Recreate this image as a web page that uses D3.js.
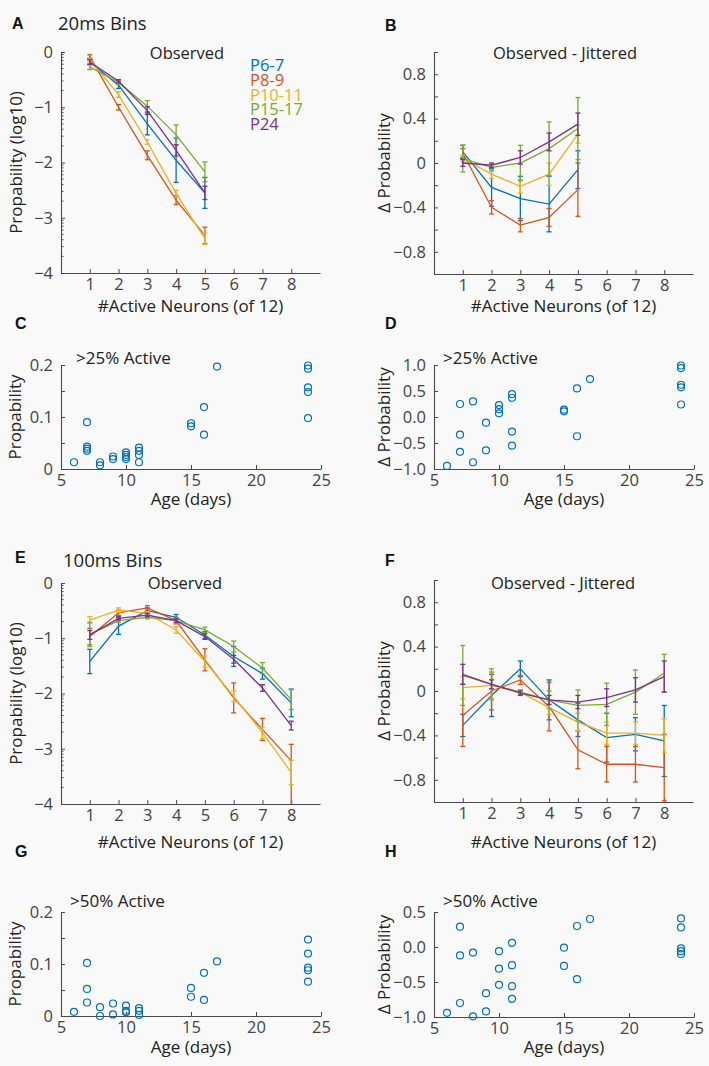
<!DOCTYPE html>
<html>
<head>
<meta charset="utf-8">
<script src="https://cdn.jsdelivr.net/npm/d3@7"></script>
<style>
  body { margin: 0; background: #f9f9f9; }
  svg { display: block; font-family: "Open Sans", sans-serif; }
</style>
</head>
<body>
<svg id="fig" width="709" height="1066"></svg>
<script>
// age groups shown in the line panels
var ageGroups = ["P6-7", "P8-9", "P10-11", "P15-17", "P24"];
var groupColors = ["#0072BD", "#D95319", "#EDB120", "#77AC30", "#7E2F8E"];

// 20 ms bins
var neurons20 = [1, 2, 3, 4, 5];
var obs20 = [
  [-0.18, -0.6, -1.3, -1.96, -2.55],
  [-0.08, -1.0, -1.87, -2.68, -3.32],
  [-0.14, -0.77, -1.63, -2.56, -3.38],
  [-0.27, -0.55, -0.98, -1.5, -2.17],
  [-0.18, -0.53, -1.06, -1.78, -2.55]
];
var obs20Err = [
  [0.05, 0.06, 0.2, 0.4, 0.28],
  [0.03, 0.05, 0.08, 0.08, 0.15],
  [0.03, 0.05, 0.04, 0.06, 0.1],
  [0.05, 0.04, 0.1, 0.18, 0.18],
  [0.04, 0.03, 0.07, 0.1, 0.12]
];
var jit20 = [
  [0.1, -0.22, -0.32, -0.37, -0.06],
  [0.09, -0.4, -0.56, -0.49, -0.24],
  [0.04, -0.1, -0.21, -0.1, 0.26],
  [0.04, -0.04, 0, 0.13, 0.31],
  [0, -0.02, 0.05, 0.19, 0.35]
];
var jit20Err = [
  [0.06, 0.17, 0.2, 0.25, 0.17],
  [0.04, 0.06, 0.06, 0.08, 0.24],
  [0.03, 0.04, 0.06, 0.1, 0.08],
  [0.12, 0.03, 0.16, 0.24, 0.28],
  [0.03, 0.02, 0.06, 0.08, 0.1]
];

// 100 ms bins
var neurons100 = [1, 2, 3, 4, 5, 6, 7, 8];
var obs100 = [
  [-1.42, -0.78, -0.5, -0.62, -0.94, -1.33, -1.64, -2.17],
  [-0.97, -0.54, -0.45, -0.68, -1.39, -2.08, -2.65, -3.22],
  [-0.67, -0.49, -0.55, -0.85, -1.42, -2.05, -2.71, -3.43],
  [-0.93, -0.68, -0.62, -0.68, -0.85, -1.15, -1.54, -2.11],
  [-0.94, -0.64, -0.58, -0.68, -0.97, -1.38, -1.9, -2.58]
];
var obs100Err = [
  [0.22, 0.15, 0.05, 0.05, 0.06, 0.18, 0.1, 0.25],
  [0.15, 0.05, 0.04, 0.06, 0.2, 0.27, 0.2, [0.8, 0.3]],
  [0.06, 0.04, 0.03, 0.06, 0.1, 0.1, 0.1, 0.22],
  [0.22, 0.03, 0.03, 0.04, 0.05, 0.1, 0.1, 0.18],
  [0.08, 0.03, 0.03, 0.03, 0.05, 0.07, 0.06, 0.08]
];
var jit100 = [
  [-0.31, -0.04, 0.2, -0.08, -0.26, -0.42, -0.39, -0.45],
  [-0.22, 0.0, 0.1, -0.14, -0.53, -0.66, -0.66, -0.69],
  [0.03, 0.05, -0.01, -0.15, -0.28, -0.38, -0.38, -0.4],
  [0.14, 0.06, -0.01, -0.08, -0.13, -0.12, -0.01, 0.16],
  [0.15, 0.06, -0.02, -0.08, -0.1, -0.06, 0.01, 0.13]
];
var jit100Err = [
  [0.1, 0.19, 0.07, 0.18, 0.15, 0.22, 0.15, 0.32],
  [0.28, 0.17, 0.04, 0.22, 0.17, 0.16, 0.16, 0.3],
  [0.1, 0.12, 0.02, 0.06, 0.08, 0.1, 0.1, 0.15],
  [0.27, 0.14, 0.02, 0.08, 0.14, 0.19, 0.2, 0.17],
  [0.09, 0.04, 0.02, 0.04, 0.06, 0.08, 0.11, 0.14]
];

// per-animal scatter panels
var daysC = [6, 7, 7, 7, 7, 8, 8, 9, 9, 10, 10, 10, 10, 11, 11, 11, 11, 15, 15, 16, 16, 17, 24, 24, 24, 24, 24];
var probC = [0.013, 0.09, 0.043, 0.039, 0.035, 0.013, 0.007, 0.024, 0.019, 0.032, 0.027, 0.023, 0.019,
  0.041, 0.035, 0.027, 0.013, 0.088, 0.082, 0.119, 0.066, 0.197, 0.199, 0.193, 0.157, 0.148, 0.098];
var daysD = [6, 7, 7, 7, 8, 8, 9, 9, 10, 10, 10, 11, 11, 11, 11, 15, 15, 16, 16, 17, 24, 24, 24, 24, 24];
var dprobD = [-0.94, 0.25, -0.34, -0.67, 0.3, -0.87, -0.11, -0.64, 0.23, 0.15, 0.07, 0.44, 0.37, -0.28, -0.55,
  0.14, 0.11, 0.55, -0.37, 0.73, 0.99, 0.94, 0.62, 0.57, 0.24];
var daysG = [6, 7, 7, 7, 8, 8, 9, 9, 10, 10, 10, 11, 11, 11, 15, 15, 16, 16, 17, 24, 24, 24, 24, 24];
var probG = [0.008, 0.102, 0.052, 0.026, 0.017, 0.0, 0.024, 0.003, 0.02, 0.01, 0.007, 0.015, 0.01, 0.002,
  0.054, 0.037, 0.083, 0.031, 0.105, 0.147, 0.12, 0.093, 0.088, 0.066];
var daysH = [6, 7, 7, 7, 8, 8, 9, 9, 10, 10, 10, 11, 11, 11, 11, 15, 15, 16, 16, 17, 24, 24, 24, 24, 24];
var dprobH = [-0.94, 0.29, -0.12, -0.8, -0.08, -0.99, -0.66, -0.92, -0.06, -0.31, -0.54, 0.06, -0.26, -0.56, -0.74,
  -0.01, -0.27, 0.3, -0.46, 0.4, 0.41, 0.28, -0.02, -0.06, -0.1];

// tick values
var neuronTicks = [1, 2, 3, 4, 5, 6, 7, 8];
var logTicks = [0, -1, -2, -3, -4];
var deltaTicks = [-1, -0.8, -0.6, -0.4, -0.2, 0, 0.2, 0.4, 0.6, 0.8, 1];
var deltaLabels = [-0.8, -0.4, 0, 0.4, 0.8];
var ageTicks = [5, 10, 15, 20, 25];
var probTicks = [0, 0.05, 0.1, 0.15, 0.2];
var probLabels = [0, 0.1, 0.2];

var svg = d3.select("#fig");
var axisColor = "#4a4a4a";

function styleAxis(g) {
  g.attr("font-family", null).attr("font-size", null);
  g.select(".domain").attr("stroke", axisColor).attr("stroke-width", 1.1);
  g.selectAll(".tick line").attr("stroke", axisColor);
  g.selectAll(".tick text").attr("fill", "#444").style("font-size", "16.5px");
}

function makePanel(o) {
  var x = d3.scaleLinear().domain(o.xDomain).range([o.left, o.right]);
  var y = d3.scaleLinear().domain(o.yDomain).range([o.bottom, o.top]);
  var g = svg.append("g");

  var xa = d3.axisBottom(x).tickValues(o.xTicks).tickSize(-4).tickSizeOuter(0).tickPadding(5);
  g.append("g").attr("transform", "translate(0," + o.bottom + ")").call(xa).call(styleAxis);

  var ya = d3.axisLeft(y).tickValues(o.yTicks).tickSize(-4).tickSizeOuter(0).tickPadding(8)
    .tickFormat(o.yFormat);
  g.append("g").attr("transform", "translate(" + o.left + ",0)").call(ya).call(styleAxis);

  if (o.minor) {
    g.append("g").selectAll("line").data(o.minor).join("line")
      .attr("x1", o.left).attr("x2", o.left + 2.5)
      .attr("y1", function(d) { return y(d); }).attr("y2", function(d) { return y(d); })
      .attr("stroke", axisColor).attr("stroke-width", 1);
  }

  g.append("text")
    .attr("transform", "translate(" + o.yTitleX + "," + (o.top + o.bottom) / 2 + ") rotate(-90)")
    .attr("text-anchor", "middle").attr("font-size", 17).attr("fill", "#222")
    .text(o.yTitle);

  if (o.xTitle) {
    g.append("text")
      .attr("x", (o.left + o.right) / 2).attr("y", o.bottom + o.xTitleDy)
      .attr("text-anchor", "middle").attr("dominant-baseline", "middle")
      .attr("font-size", 17).attr("fill", "#222")
      .text(o.xTitle);
  }

  g.append("text")
    .attr("x", o.letterX).attr("y", o.letterY)
    .attr("dominant-baseline", "middle")
    .attr("font-family", "Liberation Sans, Arial, sans-serif")
    .attr("font-weight", "bold").attr("font-size", 16).attr("fill", "#111")
    .text(o.letter);

  return { g: g, x: x, y: y };
}

function drawSeries(p, xs, values, errs, domainY) {
  var line = d3.line().x(function(d) { return p.x(d[0]); }).y(function(d) { return p.y(d[1]); });
  values.forEach(function(vals, i) {
    var col = groupColors[i];
    var pts = xs.map(function(n, j) { return [n, vals[j]]; });
    var sg = p.g.append("g").attr("stroke", col).attr("stroke-width", 1.3).attr("fill", "none");
    sg.append("path").attr("d", line(pts));
    pts.forEach(function(pt, j) {
      var e = errs[i][j];
      var lo = Array.isArray(e) ? e[0] : e;
      var hi = Array.isArray(e) ? e[1] : e;
      var yLo = p.y(Math.max(domainY[0], pt[1] - lo));
      var yHi = p.y(Math.min(domainY[1], pt[1] + hi));
      var cx = p.x(pt[0]);
      sg.append("line").attr("x1", cx).attr("x2", cx).attr("y1", yLo).attr("y2", yHi);
      if (pt[1] - lo > domainY[0]) {
        sg.append("line").attr("x1", cx - 2.5).attr("x2", cx + 2.5).attr("y1", yLo).attr("y2", yLo);
      }
      sg.append("line").attr("x1", cx - 2.5).attr("x2", cx + 2.5).attr("y1", yHi).attr("y2", yHi);
    });
  });
}

function drawScatter(p, days, vals) {
  p.g.append("g").selectAll("circle").data(days).join("circle")
    .attr("cx", function(d) { return p.x(d); })
    .attr("cy", function(d, i) { return p.y(vals[i]); })
    .attr("r", 3.5)
    .attr("fill", "none").attr("stroke", "#0072BD").attr("stroke-width", 1.2);
}

function plainText(x, y, txt, size, anchor, color) {
  svg.append("text").attr("x", x).attr("y", y)
    .attr("text-anchor", anchor || "start").attr("dominant-baseline", "middle")
    .attr("font-size", size).attr("fill", color || "#222").text(txt);
}

// log-decade minor ticks for the log10 axes
var logMinor = [];
[-4, -3, -2, -1].forEach(function(dec) {
  for (var k = 2; k <= 9; k++) logMinor.push(dec + Math.log10(k));
});

var fmtLog = function(d) { return d3.format("d")(d); };
var fmtDelta = function(d) { return deltaLabels.indexOf(Math.round(d * 10) / 10) >= 0 ? (d === 0 ? "0" : d3.format(".1f")(d)) : ""; };
var fmtProb = function(d) { return probLabels.indexOf(d) >= 0 ? (d === 0 ? "0" : d3.format(".1f")(d)) : ""; };
var fmtOne = d3.format(".1f");

// ---- A
var pA = makePanel({ left: 61, right: 320, top: 52, bottom: 273, xDomain: [0, 9], yDomain: [-4, 0],
  xTicks: neuronTicks, yTicks: logTicks, yFormat: fmtLog, minor: logMinor,
  yTitle: "Propability (log10)", yTitleX: 22, xTitle: "#Active Neurons (of 12)", xTitleDy: 34,
  letter: "A", letterX: 12, letterY: 25 });
drawSeries(pA, neurons20, obs20, obs20Err, [-4, 0]);
plainText(58, 25, "20ms Bins", 18.5);
plainText(187, 55, "Observed", 16.5, "middle");
ageGroups.forEach(function(name, i) {
  plainText(250, 67 + i * 14.6, name, 16.5, "start", groupColors[i]);
});

// ---- B
var pB = makePanel({ left: 434, right: 693, top: 52, bottom: 274, xDomain: [0, 9], yDomain: [-1, 1],
  xTicks: neuronTicks, yTicks: deltaTicks, yFormat: fmtDelta,
  yTitle: "\u0394 Probability", yTitleX: 390, xTitle: "#Active Neurons (of 12)", xTitleDy: 33,
  letter: "B", letterX: 385, letterY: 27 });
drawSeries(pB, neurons20, jit20, jit20Err, [-1, 1]);
plainText(565, 55, "Observed - Jittered", 16.5, "middle");

// ---- C
var pC = makePanel({ left: 61, right: 321, top: 365, bottom: 469, xDomain: [5, 25], yDomain: [0, 0.2],
  xTicks: ageTicks, yTicks: probTicks, yFormat: fmtProb,
  yTitle: "Propability", yTitleX: 21, xTitle: "Age (days)", xTitleDy: 31,
  letter: "C", letterX: 15, letterY: 325 });
drawScatter(pC, daysC, probC);
plainText(76, 359, ">25% Active", 17);

// ---- D
var pD = makePanel({ left: 434, right: 694, top: 365, bottom: 469, xDomain: [5, 25], yDomain: [-1, 1],
  xTicks: ageTicks, yTicks: [-1, -0.5, 0, 0.5, 1], yFormat: fmtOne,
  yTitle: "\u0394 Probability", yTitleX: 390, xTitle: "Age (days)", xTitleDy: 31,
  letter: "D", letterX: 385, letterY: 325 });
drawScatter(pD, daysD, dprobD);
plainText(443, 359, ">25% Active", 17);

// ---- E
var pE = makePanel({ left: 61, right: 320, top: 583, bottom: 804, xDomain: [0, 9], yDomain: [-4, 0],
  xTicks: neuronTicks, yTicks: logTicks, yFormat: fmtLog, minor: logMinor,
  yTitle: "Propability (log10)", yTitleX: 22, xTitle: "#Active Neurons (of 12)", xTitleDy: 39,
  letter: "E", letterX: 15, letterY: 559 });
drawSeries(pE, neurons100, obs100, obs100Err, [-4, 0]);
plainText(63, 562, "100ms Bins", 18.5);
plainText(185, 585, "Observed", 16.5, "middle");

// ---- F
var pF = makePanel({ left: 434, right: 693, top: 580, bottom: 802, xDomain: [0, 9], yDomain: [-1, 1],
  xTicks: neuronTicks, yTicks: deltaTicks, yFormat: fmtDelta,
  yTitle: "\u0394 Probability", yTitleX: 390, xTitle: "#Active Neurons (of 12)", xTitleDy: 41,
  letter: "F", letterX: 385, letterY: 562 });
drawSeries(pF, neurons100, jit100, jit100Err, [-1, 1]);
plainText(563, 585, "Observed - Jittered", 16.5, "middle");

// ---- G
var pG = makePanel({ left: 61, right: 321, top: 912, bottom: 1016, xDomain: [5, 25], yDomain: [0, 0.2],
  xTicks: ageTicks, yTicks: probTicks, yFormat: fmtProb,
  yTitle: "Propability", yTitleX: 21, xTitle: "Age (days)", xTitleDy: 32,
  letter: "G", letterX: 15, letterY: 853 });
drawScatter(pG, daysG, probG);
plainText(70, 902, ">50% Active", 17);

// ---- H
var pH = makePanel({ left: 434, right: 694, top: 912, bottom: 1017, xDomain: [5, 25], yDomain: [-1, 0.5],
  xTicks: ageTicks, yTicks: [-1, -0.5, 0, 0.5], yFormat: fmtOne,
  yTitle: "\u0394 Probability", yTitleX: 390, xTitle: "Age (days)", xTitleDy: 31,
  letter: "H", letterX: 385, letterY: 853 });
drawScatter(pH, daysH, dprobH);
plainText(443, 902, ">50% Active", 17);
</script>
</body>
</html>
